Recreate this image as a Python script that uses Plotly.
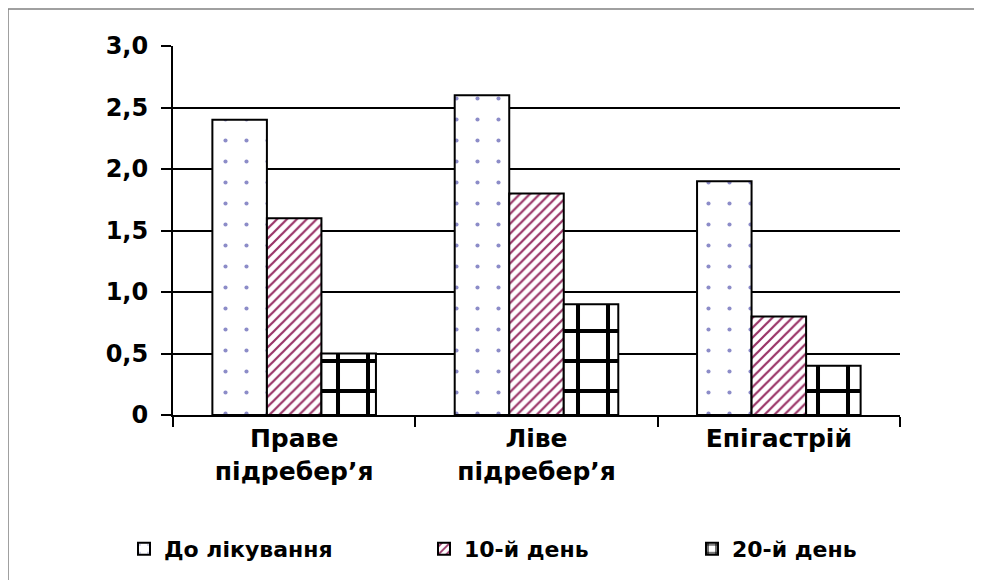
import plotly.graph_objects as go

categories = ["Праве<br>підребер’я", "Ліве<br>підребер’я", "Епігастрій"]
series_names = ["До лікування", "10-й день", "20-й день"]
before = [2.4, 2.6, 1.9]
day10 = [1.6, 1.8, 0.8]
day20 = [0.5, 0.9, 0.4]
tick_vals = [0, 0.5, 1.0, 1.5, 2.0, 2.5, 3.0]
tick_text = ["0", "0,5", "1,0", "1,5", "2,0", "2,5", "3,0"]

FONT = "DejaVu Sans"
fig = go.Figure()

# page has an 8px body margin; work in page pixels and convert
OFF = 8
W, H = 982, 580
PL, PR, PT, PB = 173, 900, 46, 415   # plot area in page pixels
L = PL - OFF
T = PT - OFF
R = W - (PR - OFF)
B = H - (PB - OFF)
pw, ph = PR - PL, PB - PT

def px(x):
    return (x - PL) / pw

def py(y):
    return (PB - y) / ph

styles = [
    dict(shape=".", fgcolor="#8C8CC8", bgcolor="white", size=21, solidity=0.03, fgopacity=1),
    dict(shape="/", fgcolor="#993366", bgcolor="white", size=7, solidity=0.32, fgopacity=1),
    dict(shape="+", fgcolor="black", bgcolor="white", size=30, solidity=0.25, fgopacity=1),
]
legend_ids = ["legend", "legend2", "legend3"]
legend_x = [124, 424, 692]
for name, vals, pat, lid in zip(series_names, [before, day10, day20], styles, legend_ids):
    fig.add_trace(go.Bar(
        x=categories, y=vals, name=name, legend=lid,
        marker=dict(color="white", pattern=pat,
                    line=dict(color="black", width=2)),
    ))

legend_common = dict(orientation="h", xanchor="left", yanchor="middle", y=py(549),
                     font=dict(family=FONT, size=22, weight="bold", color="black"),
                     bgcolor="rgba(0,0,0,0)")

fig.update_layout(
    width=W, height=H,
    margin=dict(l=L, r=R, t=T, b=B),
    paper_bgcolor="white", plot_bgcolor="white",
    barmode="group", bargap=0.325, bargroupgap=0,
    font=dict(family=FONT, size=23, color="black", weight="bold"),
    showlegend=True,
    legend=dict(x=px(legend_x[0]), **legend_common),
    legend2=dict(x=px(legend_x[1]), **legend_common),
    legend3=dict(x=px(legend_x[2]), **legend_common),
    xaxis=dict(showline=True, linecolor="black", linewidth=2,
               ticks="outside", tickson="boundaries", ticklen=10, tickwidth=2, tickcolor="black",
               showgrid=False, tickfont=dict(family=FONT, size=25, weight="bold")),
    yaxis=dict(range=[0, 3], tickvals=tick_vals, ticktext=tick_text,
               showline=True, linecolor="black", linewidth=2,
               ticks="outside", ticklen=10, tickwidth=2, tickcolor="black",
               showgrid=True, gridcolor="black", gridwidth=1.5,
               zeroline=False, ticklabelstandoff=8,
               tickfont=dict(family=FONT, size=24, weight="bold")),
    shapes=[
        dict(type="line", xref="paper", yref="paper", x0=px(8), x1=px(995), y0=py(9), y1=py(9),
             line=dict(color="#808080", width=1.5)),
        dict(type="line", xref="paper", yref="paper", x0=px(8), x1=px(8), y0=py(9), y1=py(595),
             line=dict(color="#808080", width=1.5)),
    ],
)

fig.write_html("out.html")
